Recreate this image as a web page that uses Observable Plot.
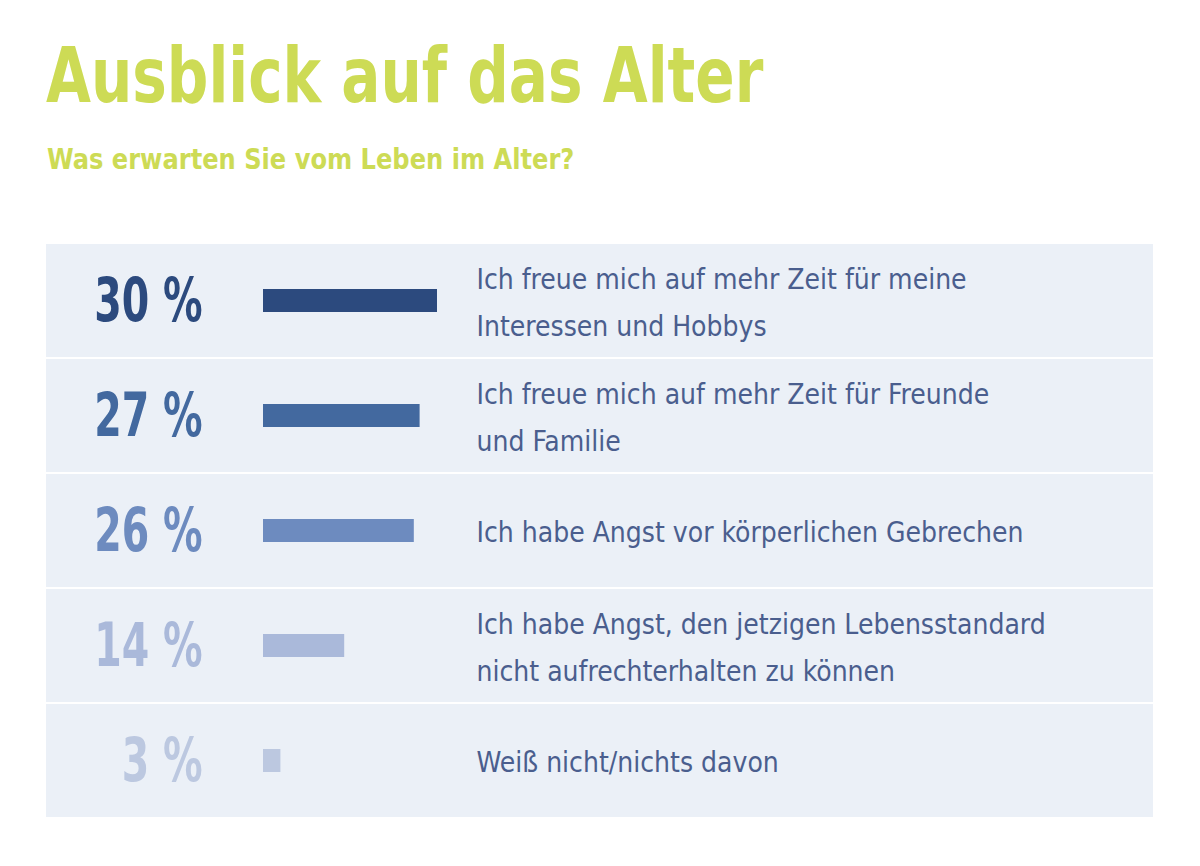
<!DOCTYPE html>
<html>
<head>
<meta charset="utf-8">
<script src="https://cdn.jsdelivr.net/npm/d3@7"></script>
<script src="https://cdn.jsdelivr.net/npm/@observablehq/plot@0.6"></script>
<style>
  html, body { margin: 0; padding: 0; background: #ffffff; width: 1200px; height: 866px; overflow: hidden; }
  .cond { font-family: "Liberation Sans Narrow", "DejaVu Sans Condensed", "Roboto Condensed", sans-serif; font-stretch: condensed; }
  #title { position: absolute; left: 46px; top: 37px; font-size: 77px; font-weight: bold; color: #cddb55; line-height: 1; white-space: nowrap; transform: scaleX(0.838); transform-origin: left top; }
  #subtitle { position: absolute; left: 47px; top: 145px; font-size: 29px; font-weight: bold; color: #cddb55; line-height: 1; white-space: nowrap; transform: scaleX(0.926); transform-origin: left top; }
  #chart { position: absolute; left: 0; top: 242px; }
</style>
</head>
<body>
<div id="title" class="cond">Ausblick auf das Alter</div>
<div id="subtitle" class="cond">Was erwarten Sie vom Leben im Alter?</div>
<div id="chart"></div>
<script>
const categories = [
  "Ich freue mich auf mehr Zeit für meine\nInteressen und Hobbys",
  "Ich freue mich auf mehr Zeit für Freunde\nund Familie",
  "Ich habe Angst vor körperlichen Gebrechen",
  "Ich habe Angst, den jetzigen Lebensstandard\nnicht aufrechterhalten zu können",
  "Weiß nicht/nichts davon"
];
const values = [30, 27, 26, 14, 3];
const colors = ["#2c4a7e", "#43699f", "#6d8bbf", "#aab9da", "#bcc8e0"];

const rows = categories.map((c, i) => ({label: c, value: values[i], color: colors[i], pct: `${values[i]} %`}));
const font = '"Liberation Sans Narrow", "DejaVu Sans Condensed", "Roboto Condensed", sans-serif';

const chart = Plot.plot({
  width: 1200,
  height: 576,
  marginLeft: 46,
  marginRight: 47,
  marginTop: 0,
  marginBottom: 0,
  style: {fontFamily: font, background: "transparent"},
  x: {domain: [0, 100], range: [263, 843], axis: null},
  y: {domain: categories, padding: 0, axis: null},
  marks: [
    Plot.cell(rows, {y: "label", fill: "#ebf0f7", insetTop: 1, insetBottom: 1}),
    Plot.barX(rows, {x1: 0, x2: "value", y: "label", fill: "color", insetTop: 46, insetBottom: 46}),
    Plot.text(rows, {y: "label", text: "pct", fill: "color", frameAnchor: "left", dx: 156, textAnchor: "end",
      fontSize: 61, fontWeight: "bold", fontStretch: "condensed"}),
    Plot.text(rows, {y: "label", text: "label", fill: "#4a5e8e", frameAnchor: "left", dx: 430, dy: -4, textAnchor: "start",
      fontSize: 28, lineHeight: 1.68, fontStretch: "condensed", letterSpacing: "0.2px"})
  ]
});
// narrow the big percentage figures horizontally (anchored at their right edge)
const textGroups = chart.querySelectorAll('g[aria-label="text"]');
if (textGroups.length) {
  textGroups[0].querySelectorAll("text").forEach(t => {
    const tr = t.getAttribute("transform");
    if (tr) {
      t.setAttribute("transform", tr + " scale(0.72,1)");
    } else {
      const x = +t.getAttribute("x") || 0, y = +t.getAttribute("y") || 0;
      t.removeAttribute("x"); t.removeAttribute("y");
      t.setAttribute("transform", `translate(${x},${y}) scale(0.72,1)`);
    }
  });
}
document.getElementById("chart").appendChild(chart);
</script>
</body>
</html>
